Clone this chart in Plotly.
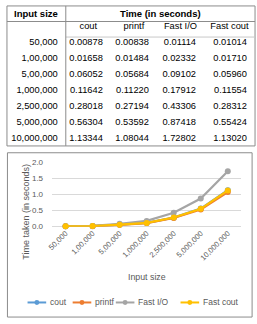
import plotly.graph_objects as go

# ---------------- data ----------------
input_sizes = ["50,000", "1,00,000", "5,00,000", "1,000,000", "2,500,000", "5,000,000", "10,000,000"]
series_names = ["cout", "printf", "Fast I/O", "Fast cout"]
cout_t = [0.00878, 0.01658, 0.06052, 0.11642, 0.28018, 0.56304, 1.13344]
printf_t = [0.00838, 0.01484, 0.05684, 0.11220, 0.27194, 0.53592, 1.08044]
fastio_t = [0.01114, 0.02332, 0.09102, 0.17912, 0.43306, 0.87418, 1.72802]
fastcout_t = [0.01014, 0.01710, 0.05960, 0.11554, 0.28312, 0.55424, 1.13020]
series_values = [cout_t, printf_t, fastio_t, fastcout_t]
series_colors = ["#5B9BD5", "#ED7D31", "#A5A5A5", "#FFC000"]
y_ticks = [0.0, 0.5, 1.0, 1.5, 2.0]

W, H = 257, 324
FONT = "Liberation Sans"
GRAY = "#595959"
BORDER = "#8c8c8c"
NBSP = "\u00a0"


def px(x):
    return x / W


def py(y):
    return 1 - y / H


fig = go.Figure()

# ---------------- table ----------------
tbl_left, tbl_right, tbl_top = 2, 255, 2
row_h = 16
col_w = [60, 46, 47, 48, 52]
n_rows = 2 + len(input_sizes)
tbl_bottom = tbl_top + n_rows * row_h
text_lift = 8  # plotly puts cell text low in the cell; start the trace higher

header_vals = [""] + [n.replace(" ", NBSP) for n in series_names]
cell_vals = [input_sizes] + [[f"{v:.5f}" for v in s] for s in series_values]

fig.add_trace(go.Table(
    domain=dict(x=[px(tbl_left), px(tbl_right)],
                y=[py(tbl_bottom + 2), py(tbl_top + row_h - text_lift)]),
    columnwidth=col_w,
    header=dict(values=header_vals, height=row_h, align="center",
                fill_color="rgba(0,0,0,0)", line=dict(color="rgba(0,0,0,0)", width=0),
                font=dict(family=FONT, size=9.3, color="black")),
    cells=dict(values=cell_vals, height=row_h, align="right",
               fill_color="rgba(0,0,0,0)", line=dict(color="rgba(0,0,0,0)", width=0),
               font=dict(family=FONT, size=9.3, color="black")),
))

shapes = []
div_x = tbl_left + col_w[0]
shapes.append(dict(type="rect", xref="paper", yref="paper",
                   x0=px(tbl_left), x1=px(tbl_right), y0=py(tbl_bottom), y1=py(tbl_top),
                   line=dict(color=BORDER, width=1)))
shapes.append(dict(type="line", xref="paper", yref="paper",
                   x0=px(tbl_left), x1=px(tbl_right), y0=py(tbl_top + row_h), y1=py(tbl_top + row_h),
                   line=dict(color=BORDER, width=1)))
shapes.append(dict(type="line", xref="paper", yref="paper",
                   x0=px(div_x), x1=px(tbl_right), y0=py(tbl_top + 2 * row_h), y1=py(tbl_top + 2 * row_h),
                   line=dict(color="#c8c8c8", width=1)))
shapes.append(dict(type="line", xref="paper", yref="paper",
                   x0=px(div_x), x1=px(div_x), y0=py(tbl_bottom), y1=py(tbl_top),
                   line=dict(color=BORDER, width=1)))

annotations = [
    dict(text="<b>Input size</b>", x=px((tbl_left + div_x) / 2), y=py(tbl_top + row_h / 2),
         xref="paper", yref="paper", showarrow=False, xanchor="center", yanchor="middle",
         font=dict(family=FONT, size=9.5, color="black")),
    dict(text="<b>Time (in seconds)</b>", x=px((div_x + tbl_right) / 2), y=py(tbl_top + row_h / 2),
         xref="paper", yref="paper", showarrow=False, xanchor="center", yanchor="middle",
         font=dict(family=FONT, size=9.5, color="black")),
]

# ---------------- chart ----------------
box_l, box_r, box_t, box_b = 2.5, 252, 153, 322
plot_l, plot_r, plot_t, plot_b = 48, 241, 163, 229

for name, vals, col in zip(series_names, series_values, series_colors):
    fig.add_trace(go.Scatter(
        x=input_sizes, y=vals, name=name, mode="lines+markers",
        line=dict(color=col, width=2.2), marker=dict(color=col, size=6),
        cliponaxis=False, showlegend=False,
    ))

shapes.append(dict(type="rect", xref="paper", yref="paper",
                   x0=px(box_l), x1=px(box_r), y0=py(box_b), y1=py(box_t),
                   line=dict(color=BORDER, width=1)))

annotations.append(dict(text="Time taken (in seconds)", textangle=-90, x=px(21), y=py(214),
                        xref="paper", yref="paper", showarrow=False, xanchor="center", yanchor="middle",
                        font=dict(family=FONT, size=9, color=GRAY)))
annotations.append(dict(text="Input size", x=px((plot_l + plot_r) / 2), y=py(281),
                        xref="paper", yref="paper", showarrow=False, xanchor="center", yanchor="middle",
                        font=dict(family=FONT, size=8.8, color=GRAY)))

leg_y = 307
leg_starts = [23, 69, 113, 179]
seg = 19
for name, col, x0 in zip(series_names, series_colors, leg_starts):
    shapes.append(dict(type="line", xref="paper", yref="paper",
                       x0=px(x0), x1=px(x0 + seg), y0=py(leg_y), y1=py(leg_y),
                       line=dict(color=col, width=2)))
    cx = x0 + seg / 2
    shapes.append(dict(type="circle", xref="paper", yref="paper",
                       x0=px(cx - 2.5), x1=px(cx + 2.5), y0=py(leg_y + 2.5), y1=py(leg_y - 2.5),
                       fillcolor=col, line=dict(color=col, width=0)))
    annotations.append(dict(text=name, x=px(x0 + seg + 1.5), y=py(leg_y),
                            xref="paper", yref="paper", showarrow=False, xanchor="left", yanchor="middle",
                            font=dict(family=FONT, size=8.5, color=GRAY)))

fig.update_layout(
    width=W, height=H,
    margin=dict(l=0, r=0, t=0, b=0),
    paper_bgcolor="white", plot_bgcolor="white",
    showlegend=False,
    shapes=shapes, annotations=annotations,
    xaxis=dict(domain=[px(plot_l), px(plot_r)], type="category", range=[-0.5, 6.5],
               showgrid=False, zeroline=False, showline=False, ticks="",
               tickangle=-45, tickfont=dict(family=FONT, size=7.6, color=GRAY)),
    yaxis=dict(domain=[py(plot_b), py(plot_t)], range=[0, 2], tickvals=y_ticks,
               tickformat=".1f", showgrid=True, gridcolor="#d9d9d9", gridwidth=1,
               zeroline=True, zerolinecolor="#d9d9d9", zerolinewidth=1, showline=False,
               ticks="", ticklabelstandoff=8, tickfont=dict(family=FONT, size=8, color=GRAY)),
)

fig.write_html("out.html")
